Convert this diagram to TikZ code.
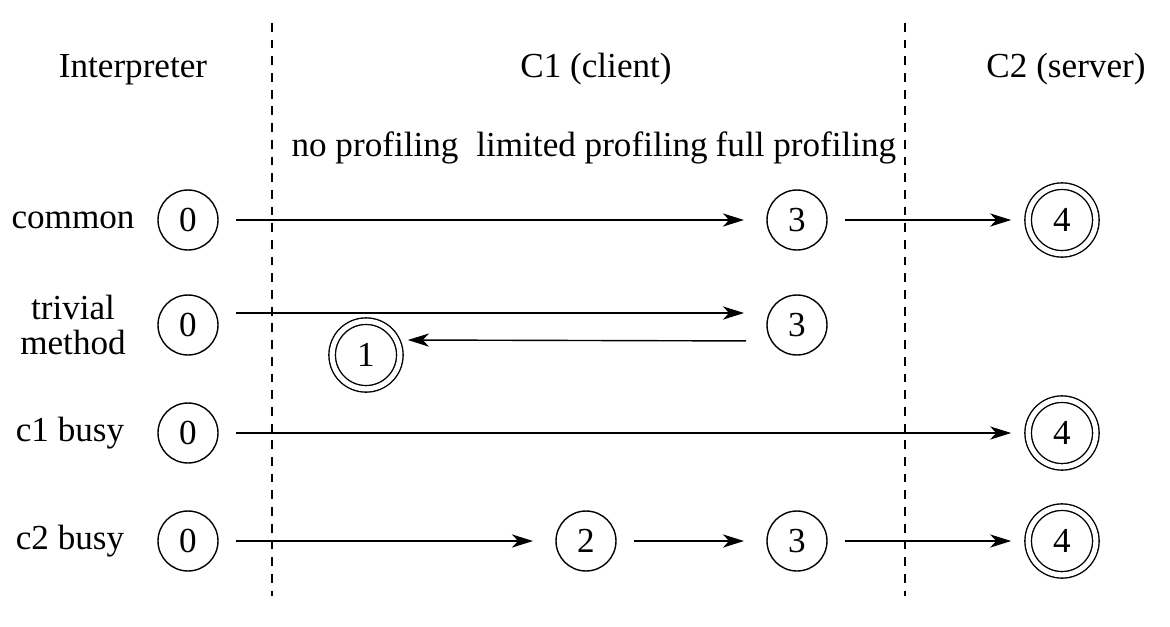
\documentclass[tikz,border=0pt]{standalone}
\usepackage{fontspec}
\setmainfont{Liberation Serif}
\usetikzlibrary{arrows.meta}
\begin{document}
\begin{tikzpicture}[x={(0.02cm,0)},y={(0,-0.02cm)},
  font=\fontsize{20}{19.5}\selectfont,
  st/.style={circle,draw,line width=0.8pt,minimum size=1.2cm,inner sep=0pt,outer sep=0pt},
  acc/.style={circle,draw,line width=0.8pt,double,double distance=2.9pt,minimum size=1.354cm,inner sep=0pt,outer sep=0pt},
  lbl/.style={align=center},
  hdr/.style={anchor=base},
  divider/.style={line width=0.7pt,dash pattern=on 5pt off 4.5pt},
  edge/.style={line width=0.8pt,-{Stealth[length=12pt,width=7.5pt,inset=3.5pt]},shorten <=0.36cm},
  tosingle/.style={shorten >=0.46cm},
  todouble/.style={shorten >=0.34cm}
]
\useasboundingbox (0,0) rectangle (1170,626);
% dividers
\coordinate (d1t) at (272,23);
\coordinate (d1b) at (272,596);
\coordinate (d2t) at (905,23);
\coordinate (d2b) at (905,596);
\draw[divider] (d1t) -- (d1b);
\draw[divider] (d2t) -- (d2b);
% headers
\node[hdr] (hInt) at (133,77) {Interpreter};
\node[hdr] (hC1) at (596,77) {C1 (client)};
\node[hdr] (hC2) at (1066,77) {C2 (server)};
\node[hdr] (pNo) at (375,156) {no profiling};
\node[hdr] (pLim) at (592,156) {limited profiling};
\node[hdr] (pFull) at (806,156) {full profiling};
% row labels
\node[lbl] (lCommon) at (73,220) {common};
\node[lbl] (lTrivial) at (73,325) {trivial\\method};
\node[lbl] (lC1) at (70,433) {c1 busy};
\node[lbl] (lC2) at (70,541) {c2 busy};
% row 1: common
\node[st] (a0) at (188,220) {0};
\node[st] (a3) at (797,220) {3};
\node[acc] (a4) at (1062,220) {4};
\draw[edge,tosingle] (a0) -- (a3);
\draw[edge,todouble] (a3) -- (a4);
% row 2: trivial method
\node[st] (b0) at (188,325) {0};
\node[st] (b3) at (797,325) {3};
\node[acc] (b1) at (366,355) {1};
\draw[edge,tosingle] ([yshift=0.24cm]b0.east) -- ([yshift=0.24cm]b3.west);
\draw[line width=0.8pt,-{Stealth[length=12pt,width=7.5pt,inset=3.5pt]},shorten <=0.42cm] ([yshift=-0.32cm]b3.west) -- ([xshift=0.16cm,yshift=0.3cm]b1.east);
% row 3: c1 busy
\node[st] (c0) at (188,433) {0};
\node[acc] (c4) at (1062,433) {4};
\draw[edge,todouble] (c0) -- (c4);
% row 4: c2 busy
\node[st] (e0) at (188,541) {0};
\node[st] (e2) at (586,541) {2};
\node[st] (e3) at (797,541) {3};
\node[acc] (e4) at (1062,541) {4};
\draw[edge,tosingle] (e0) -- (e2);
\draw[edge,tosingle] (e2) -- (e3);
\draw[edge,todouble] (e3) -- (e4);
\end{tikzpicture}
\end{document}
